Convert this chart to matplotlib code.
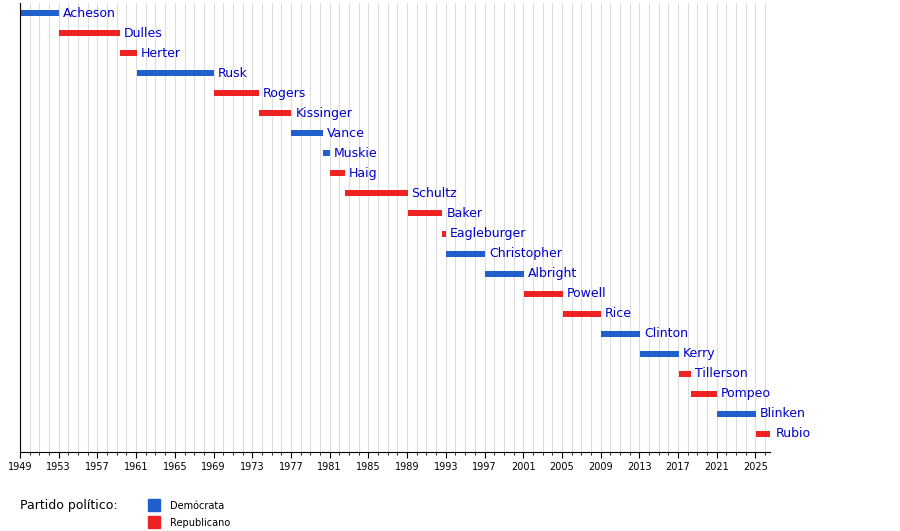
import matplotlib
matplotlib.use("Agg")
import matplotlib.pyplot as plt
from matplotlib.patches import Rectangle

names = ["Acheson","Dulles","Herter","Rusk","Rogers","Kissinger","Vance","Muskie","Haig","Schultz","Baker",
         "Eagleburger","Christopher","Albright","Powell","Rice","Clinton","Kerry","Tillerson","Pompeo","Blinken","Rubio"]
starts = [1949.05,1953.05,1959.3,1961.05,1969.05,1973.7,1977.05,1980.35,1981.05,1982.55,1989.05,
          1992.65,1993.05,1997.05,2001.05,2005.07,2009.05,2013.08,2017.1,2018.3,2021.05,2025.05]
ends = [1953.05,1959.3,1961.05,1969.05,1973.7,1977.05,1980.3,1981.05,1982.55,1989.05,1992.65,
        1993.05,1997.05,2001.05,2005.07,2009.05,2013.08,2017.05,2018.3,2021.05,2025.05,2026.7]
party = ["D","R","R","D","R","R","D","D","R","R","R","R","D","D","R","R","D","D","R","R","D","R"]
colors = {"D": "#2060cc", "R": "#ee2222"}
ticks = list(range(1949, 2026, 4))

fig = plt.figure(figsize=(9, 5.31), dpi=100)
ax = fig.add_axes([20/900, 1-452/531, 750/900, 449/531])
for y in range(1949, 2027):
    ax.axvline(y, color="#dddddd", lw=0.8, zorder=0)
for i, (n, s, e, p) in enumerate(zip(names, starts, ends, party)):
    ax.barh(i, e - s, left=s, height=0.3, color=colors[p], zorder=2)
    ax.text(e + 0.4, i, n, color="#0000cc", fontsize=9, va="center", ha="left")
ax.set_xlim(1949, 2026.5)
ax.set_ylim(21.9, -0.5)
ax.set_yticks([])
ax.set_xticks(ticks)
ax.set_xticklabels([str(t) for t in ticks], fontsize=7)
ax.set_xticks(range(1949, 2027), minor=True)
ax.tick_params(axis="x", length=4, width=0.8)
ax.tick_params(axis="x", which="minor", length=2)
for s in ["top", "right"]:
    ax.spines[s].set_visible(False)

fig.text(20/900, 1-505/531, "Partido político:", fontsize=9, va="center")
fig.patches.append(Rectangle((148/900, 1-511/531), 12/900, 12/531, color=colors["D"], transform=fig.transFigure))
fig.patches.append(Rectangle((148/900, 1-528/531), 12/900, 12/531, color=colors["R"], transform=fig.transFigure))
fig.text(170/900, 1-506/531, "Demócrata", fontsize=7, va="center")
fig.text(170/900, 1-523/531, "Republicano", fontsize=7, va="center")
fig.savefig("out.png", dpi=100)
